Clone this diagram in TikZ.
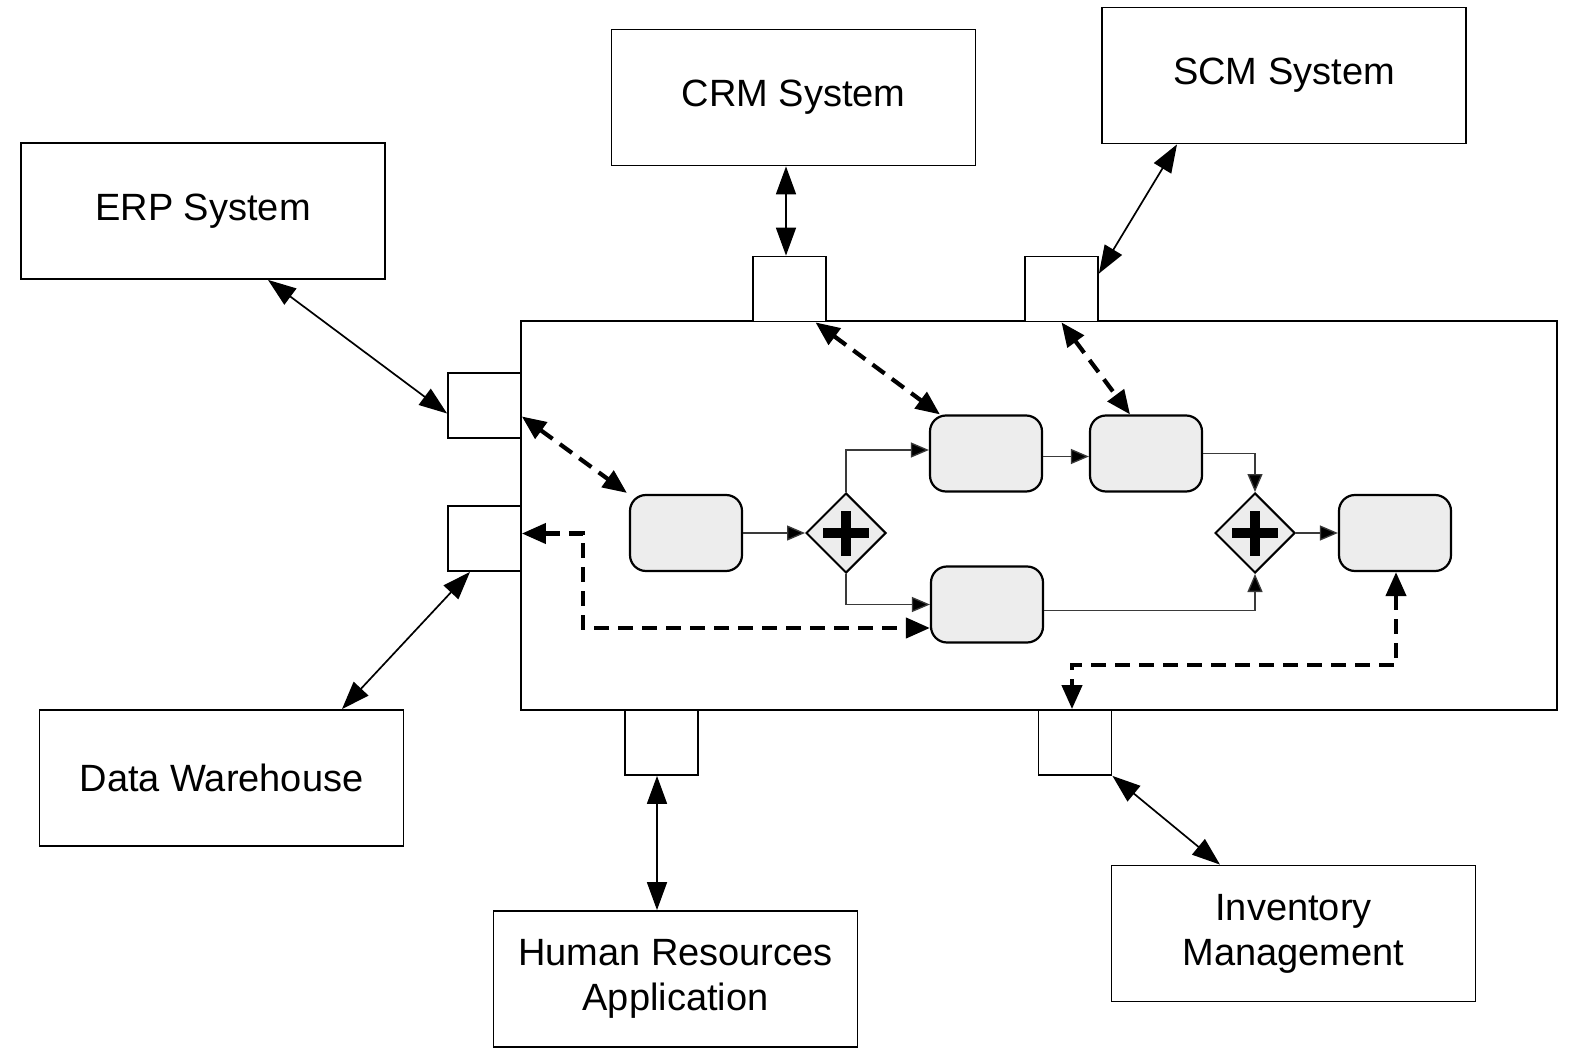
\documentclass[tikz,border=0pt]{standalone}
\usepackage{fontspec}
\setmainfont{Liberation Sans}
\usetikzlibrary{arrows.meta,shapes.geometric}
\definecolor{taskgray}{HTML}{EDEDED}
\definecolor{flowgray}{HTML}{3A3A3A}
\begin{document}
\begin{tikzpicture}[x=1pt,y=-1pt,
  sysbox/.style={draw, line width=1.8pt, minimum width=364pt, minimum height=136pt,
    align=center, inner sep=0pt, font=\fontsize{38}{45}\selectfont},
  portbox/.style={draw, line width=1.8pt, minimum width=73pt, minimum height=65pt, fill=white, inner sep=0pt},
  task/.style={draw, rounded corners=16pt, fill=taskgray, line width=2.2pt,
    minimum width=112pt, minimum height=76pt, inner sep=0pt},
  gate/.style={draw, diamond, fill=taskgray, line width=2pt, minimum width=80pt,
    minimum height=80pt, inner sep=0pt,
    path picture={
      \fill[black] ([xshift=-23pt,yshift=-5pt]path picture bounding box.center) rectangle ([xshift=23pt,yshift=5pt]path picture bounding box.center);
      \fill[black] ([xshift=-5pt,yshift=-22.5pt]path picture bounding box.center) rectangle ([xshift=5pt,yshift=22.5pt]path picture bounding box.center);
    }},
  link/.style={line width=1.7pt, {Triangle[length=28pt,width=20pt]}-{Triangle[length=28pt,width=20pt]}},
  assoc/.style={line width=4.2pt, dash pattern=on 15pt off 9pt,
    {Triangle[length=24pt,width=20pt]}-{Triangle[length=24pt,width=20pt]}},
  flow/.style={line width=1.3pt, draw=flowgray, -{Triangle[length=18pt,width=15pt,fill=black]}}
]
\useasboundingbox (0,0) rectangle (1572,1056);
\fill[white] (0,0) rectangle (1572,1056);

% process pool
\node[draw, line width=1.8pt, minimum width=1036pt, minimum height=389pt, inner sep=0pt] (pool) at (1039,515.5) {};

% external systems
\node[sysbox] (erp) at (203,211) {ERP System};
\node[sysbox] (crm) at (793.5,97.5) {CRM System};
\node[sysbox] (scm) at (1284,75.5) {SCM System};
\node[sysbox] (dw)  at (221.5,778) {Data Warehouse};
\node[sysbox] (hr)  at (675.5,979) {Human Resources\\Application};
\node[sysbox] (inv) at (1293.5,933.5) {Inventory\\Management};

% interface ports on the pool border
\node[portbox] (perp) at (484.5,405.5) {};
\node[portbox] (pdw)  at (484.5,538.5) {};
\node[portbox] (pcrm) at (789.5,289) {};
\node[portbox] (pscm) at (1061.5,289) {};
\node[portbox] (phr)  at (661.5,742.5) {};
\node[portbox] (pinv) at (1075,742.5) {};

% tasks and gateways
\node[task] (t1) at (686,533) {};
\node[task] (t2) at (986,453.5) {};
\node[task] (t3) at (1146,453.5) {};
\node[task] (t4) at (987,604.5) {};
\node[task] (t5) at (1395,533) {};
\node[gate] (g1) at (846,533) {};
\node[gate] (g2) at (1255,533) {};

% sequence flows
\draw[flow] (t1.east) -- (g1.west);
\draw[flow] (g1.north) |- ([yshift=3.5pt]t2.west);
\draw[flow] (g1.south) |- (t4.west);
\draw[flow] ([yshift=-3pt]t2.east) -- ([yshift=-3pt]t3.west);
\draw[flow] (t3.east) -| (g2.north);
\draw[flow] ([yshift=-6pt]t4.east) -| (g2.south);
\draw[flow] (g2.east) -- (t5.west);

% system links
\draw[link] ([xshift=65pt]erp.south) -- ([yshift=-8pt]perp.west);
\draw[link] ([xshift=-7.5pt]crm.south) -- ([xshift=-3.5pt]pcrm.north);
\draw[link] ([xshift=-107pt]scm.south) -- ([yshift=-18pt]pscm.north east);
\draw[link] ([xshift=120.5pt]dw.north) -- ([xshift=-14.5pt]pdw.south);
\draw[link] ([xshift=-4.5pt]phr.south) -- ([xshift=-18.5pt]hr.north);
\draw[link] (pinv.south east) -- ([xshift=-73.5pt]inv.north);

% data associations
\coordinate (dwbend) at (583,628);
\coordinate (invbend) at (1072,665);
\draw[assoc] ([yshift=-11pt]perp.east) -- ([xshift=-2pt,yshift=1pt]t1.north west);
\draw[assoc] ([yshift=5pt]pdw.east) -| (dwbend) -- ([yshift=-23.5pt]t4.west);
\draw[assoc] ([xshift=26pt]pcrm.south) -- ([xshift=11pt]t2.north west);
\draw[assoc] (pscm.south) -- ([xshift=-16pt]t3.north);
\draw[assoc] ([xshift=1pt]t5.south) |- (invbend) -- ([xshift=-3pt]pinv.north);
\end{tikzpicture}
\end{document}
